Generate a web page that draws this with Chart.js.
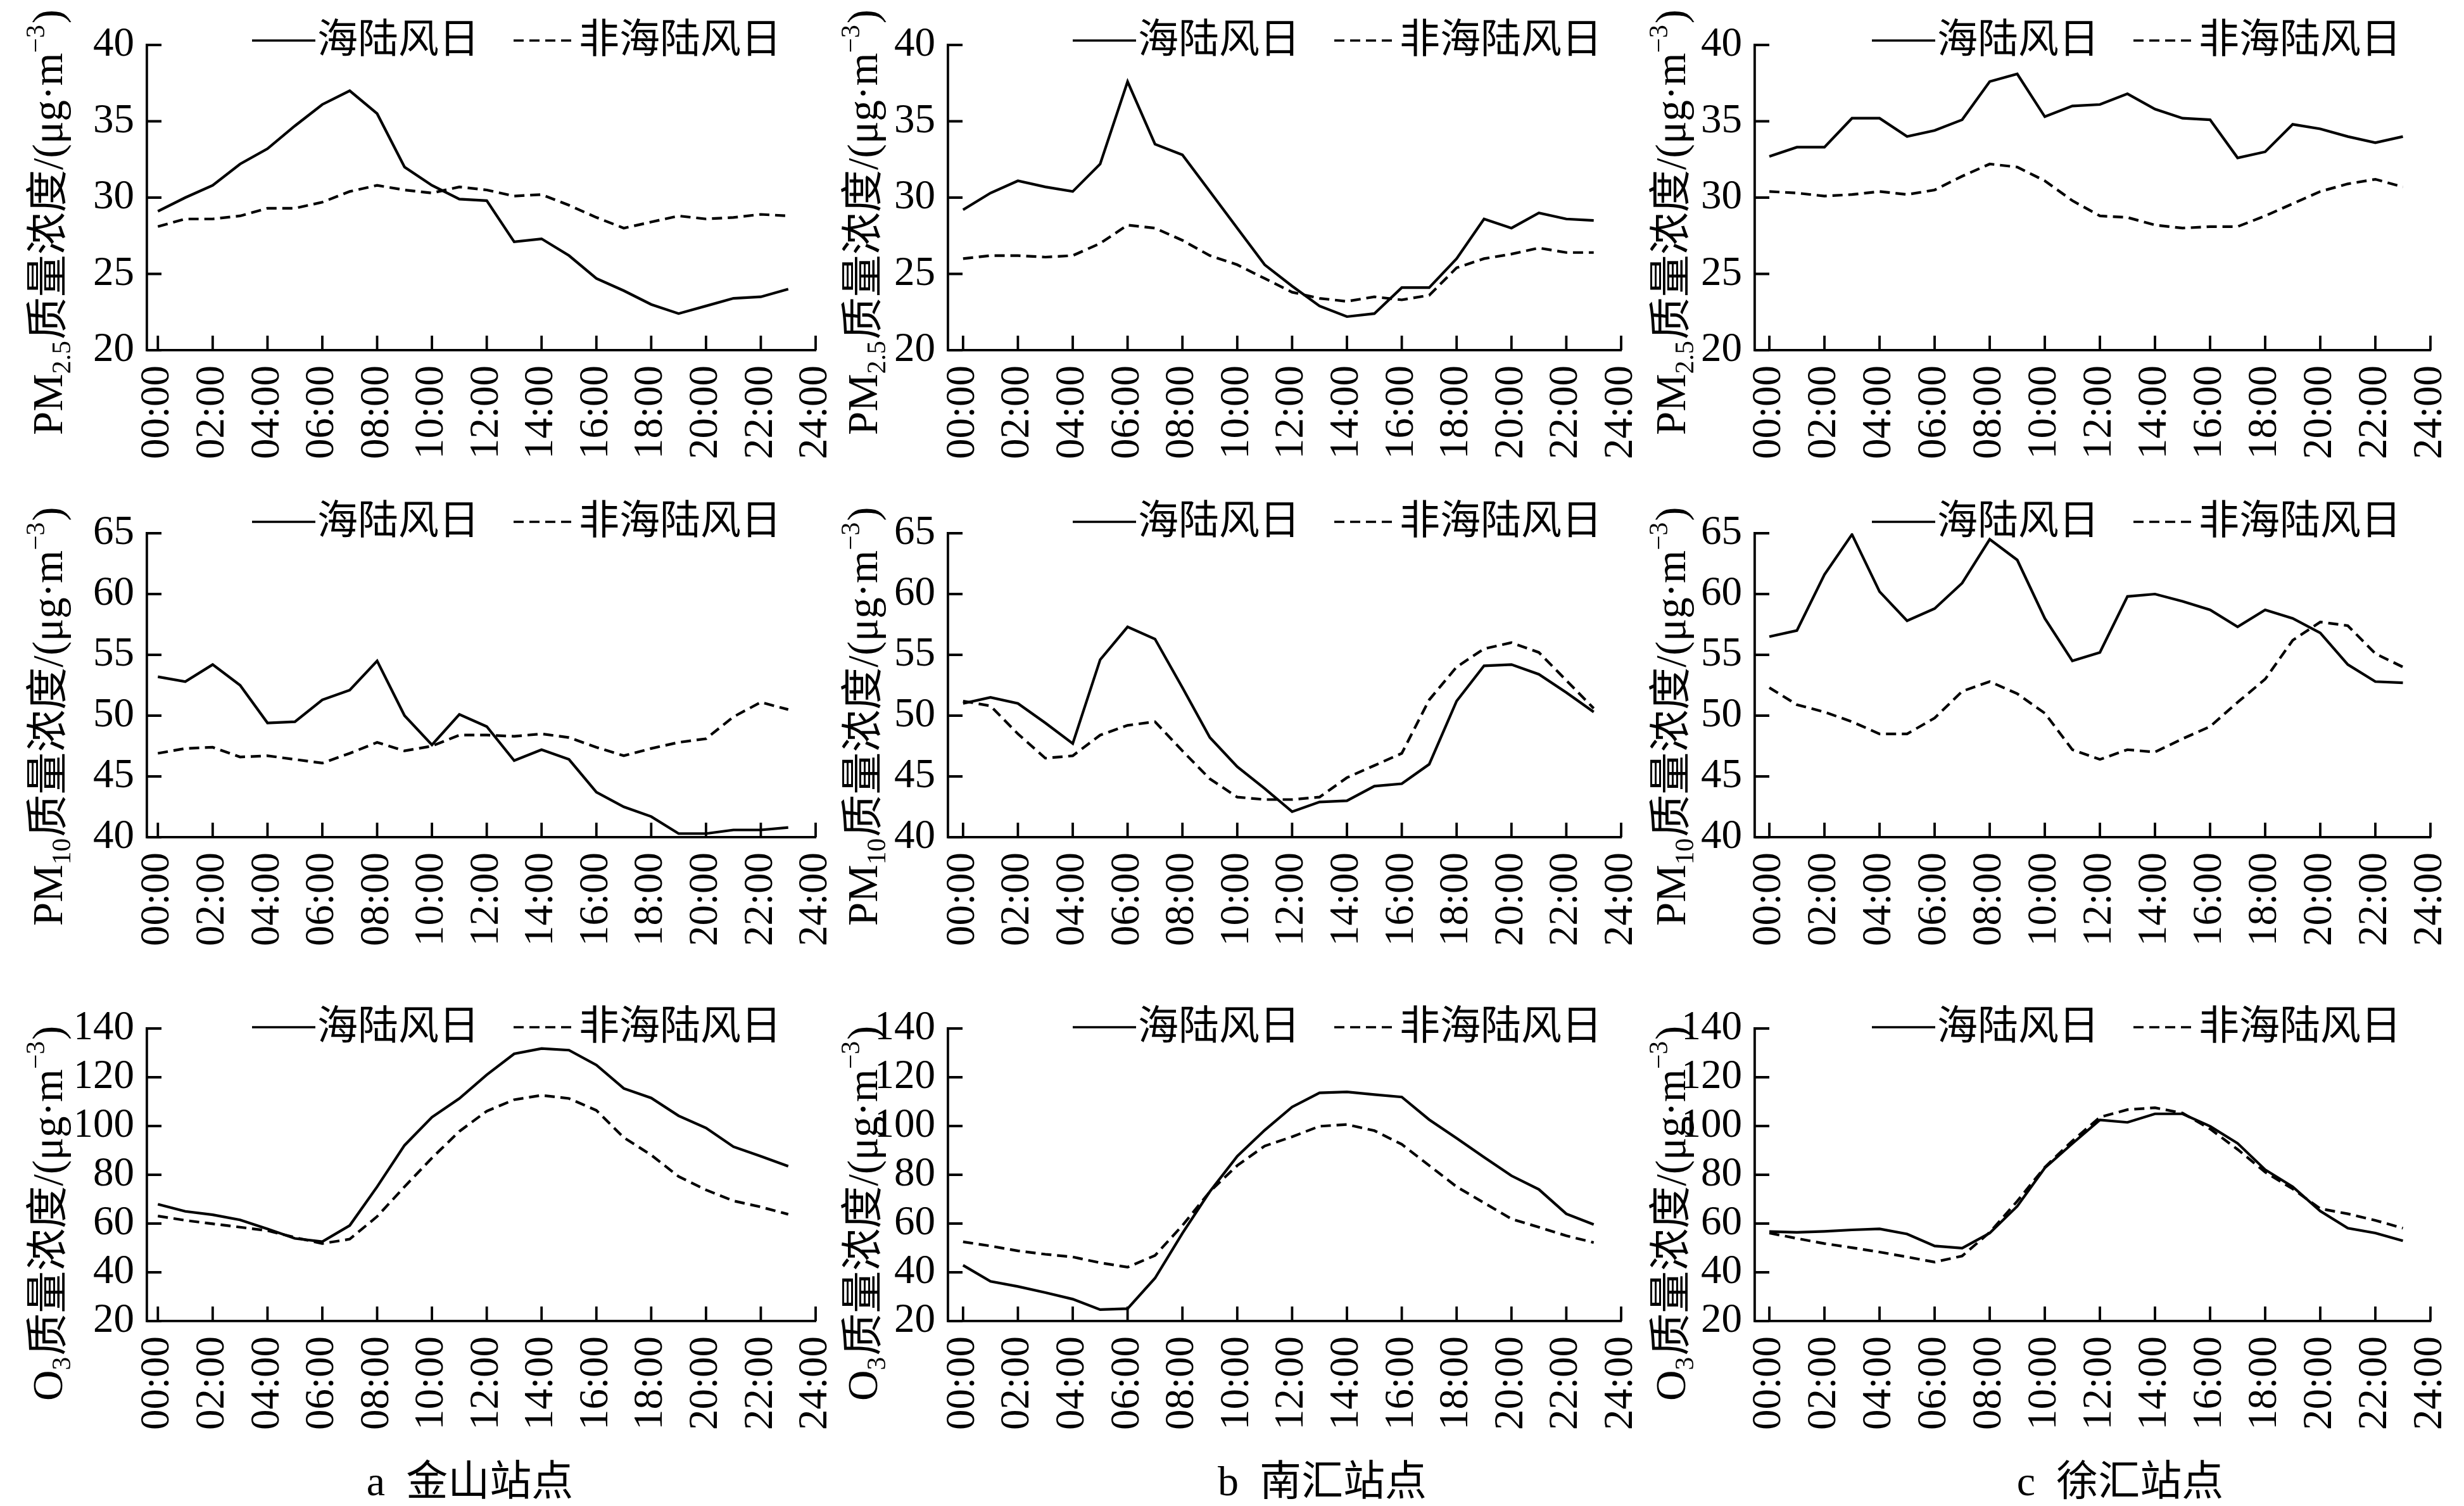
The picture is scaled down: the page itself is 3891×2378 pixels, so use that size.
<!DOCTYPE html>
<html>
<head>
<meta charset="utf-8">
<script src="https://cdn.jsdelivr.net/npm/chart.js@4.4.1/dist/chart.umd.min.js"></script>
<style>
  html, body { margin: 0; padding: 0; background: #fff; }
  #page { position: relative; width: 3891px; height: 2378px; background: #fff; overflow: hidden; }
  #page canvas { position: absolute; }
  .caption {
    position: absolute; top: 2306px; width: 600px; margin-left: -300px; text-align: center;
    font: 66px/66px "Liberation Serif", "Noto Sans CJK SC", serif; color: #000; white-space: pre;
  }
</style>
</head>
<body>
<div id="page">
  <div class="caption" style="left:742px">a&ensp;金山站点</div>
  <div class="caption" style="left:2088px">b&ensp;南汇站点</div>
  <div class="caption" style="left:3348px">c&ensp;徐汇站点</div>
</div>
<script>
"use strict";

// ---------------------------------------------------------------------------
// Data (hourly means)
// ---------------------------------------------------------------------------

const HOURS = [0, 1, 2, 3, 4, 5, 6, 7, 8, 9, 10, 11, 12, 13, 14, 15, 16, 17, 18, 19, 20, 21, 22, 23];
const HOUR_TICKS = [0, 2, 4, 6, 8, 10, 12, 14, 16, 18, 20, 22, 24];
const HOUR_LABELS = ["00:00", "02:00", "04:00", "06:00", "08:00", "10:00", "12:00",
  "14:00", "16:00", "18:00", "20:00", "22:00", "24:00"];
const SERIES_LABELS = ["海陆风日", "非海陆风日"];

const PM25_TICKS = [20, 25, 30, 35, 40];
const PM10_TICKS = [40, 45, 50, 55, 60, 65];
const O3_TICKS = [20, 40, 60, 80, 100, 120, 140];

// 金山
const JS_PM25_SEA = [29.1, 30.0, 30.8, 32.2, 33.2, 34.7, 36.1, 37.0, 35.5, 32.0, 30.8, 29.9, 29.8, 27.1, 27.3, 26.2, 24.7, 23.9, 23.0, 22.4, 22.9, 23.4, 23.5, 24.0];
const JS_PM25_NON = [28.1, 28.6, 28.6, 28.8, 29.3, 29.3, 29.7, 30.4, 30.8, 30.5, 30.3, 30.7, 30.5, 30.1, 30.2, 29.5, 28.7, 28.0, 28.4, 28.8, 28.6, 28.7, 28.9, 28.8];
const JS_PM10_SEA = [53.2, 52.8, 54.2, 52.5, 49.4, 49.5, 51.3, 52.1, 54.5, 50.0, 47.6, 50.1, 49.1, 46.3, 47.2, 46.4, 43.7, 42.5, 41.7, 40.3, 40.3, 40.6, 40.6, 40.8];
const JS_PM10_NON = [46.9, 47.3, 47.4, 46.6, 46.7, 46.4, 46.1, 46.9, 47.8, 47.1, 47.5, 48.4, 48.4, 48.3, 48.5, 48.2, 47.4, 46.7, 47.3, 47.8, 48.1, 49.9, 51.1, 50.5];
const JS_O3_SEA = [67.9, 65.0, 63.6, 61.5, 57.8, 53.9, 52.6, 59.2, 75.1, 92.1, 103.6, 111.3, 121.0, 129.6, 131.8, 131.1, 125.0, 115.4, 111.5, 104.2, 99.2, 91.5, 87.6, 83.5];
const JS_O3_NON = [63.1, 61.3, 59.9, 58.5, 57.1, 54.3, 51.8, 53.6, 62.9, 75.1, 86.9, 97.8, 106.1, 110.8, 112.6, 111.3, 106.4, 95.3, 88.1, 79.3, 73.8, 69.3, 66.8, 63.8];

// 南汇
const NH_PM25_SEA = [29.2, 30.3, 31.1, 30.7, 30.4, 32.2, 37.6, 33.5, 32.8, 30.4, 28.0, 25.6, 24.2, 22.9, 22.2, 22.4, 24.1, 24.1, 26.0, 28.6, 28.0, 29.0, 28.6, 28.5];
const NH_PM25_NON = [26.0, 26.2, 26.2, 26.1, 26.2, 27.0, 28.2, 28.0, 27.2, 26.2, 25.6, 24.7, 23.8, 23.4, 23.2, 23.5, 23.3, 23.6, 25.4, 26.0, 26.3, 26.7, 26.4, 26.4];
const NH_PM10_SEA = [51.0, 51.5, 51.0, 49.4, 47.7, 54.6, 57.3, 56.3, 52.3, 48.2, 45.8, 44.0, 42.1, 42.9, 43.0, 44.2, 44.4, 46.0, 51.2, 54.1, 54.2, 53.4, 51.9, 50.3];
const NH_PM10_NON = [51.2, 50.8, 48.5, 46.5, 46.7, 48.4, 49.2, 49.5, 47.1, 44.8, 43.3, 43.1, 43.1, 43.3, 44.9, 45.9, 46.9, 51.3, 54.0, 55.5, 56.0, 55.2, 52.9, 50.6];
const NH_O3_SEA = [42.9, 36.3, 34.2, 31.7, 29.0, 24.7, 25.1, 37.6, 56.0, 73.1, 87.6, 98.3, 107.8, 113.6, 114.0, 112.9, 111.9, 102.6, 95.0, 87.2, 79.6, 74.0, 64.0, 59.6];
const NH_O3_NON = [52.5, 50.8, 48.8, 47.4, 46.3, 43.9, 42.1, 46.9, 59.2, 73.1, 83.8, 91.8, 95.6, 99.9, 100.6, 98.1, 92.5, 83.8, 75.1, 68.5, 61.9, 58.5, 55.0, 52.2];

// 徐汇
const XH_PM25_SEA = [32.7, 33.3, 33.3, 35.2, 35.2, 34.0, 34.4, 35.1, 37.6, 38.1, 35.3, 36.0, 36.1, 36.8, 35.8, 35.2, 35.1, 32.6, 33.0, 34.8, 34.5, 34.0, 33.6, 34.0];
const XH_PM25_NON = [30.4, 30.3, 30.1, 30.2, 30.4, 30.2, 30.5, 31.4, 32.2, 32.0, 31.1, 29.8, 28.8, 28.7, 28.2, 28.0, 28.1, 28.1, 28.8, 29.6, 30.4, 30.9, 31.2, 30.7];
const XH_PM10_SEA = [56.5, 57.0, 61.6, 64.9, 60.2, 57.8, 58.8, 60.9, 64.5, 62.8, 58.0, 54.5, 55.2, 59.8, 60.0, 59.4, 58.7, 57.3, 58.7, 58.0, 56.8, 54.2, 52.8, 52.7];
const XH_PM10_NON = [52.3, 50.9, 50.3, 49.5, 48.5, 48.5, 49.8, 52.0, 52.8, 51.8, 50.2, 47.2, 46.4, 47.2, 47.0, 48.1, 49.1, 51.1, 53.0, 56.2, 57.7, 57.4, 55.1, 54.0];
const XH_O3_SEA = [56.7, 56.4, 56.8, 57.4, 57.8, 55.7, 50.8, 49.9, 56.1, 67.1, 82.8, 92.8, 102.5, 101.5, 105.0, 105.0, 99.9, 92.9, 82.1, 75.1, 65.1, 58.1, 56.1, 52.9];
const XH_O3_NON = [56.1, 53.9, 51.8, 50.1, 48.3, 46.3, 44.2, 46.7, 56.4, 69.2, 83.1, 93.9, 103.6, 106.7, 107.5, 105.3, 98.8, 90.4, 81.1, 74.2, 66.1, 64.0, 61.3, 58.1];

// Axis titles, split so subscripts / superscripts can be drawn
const TITLE_PM25 = [["PM"], ["2.5", "sub"], ["质量浓度/(μg·m"], ["−3", "sup"], [")"]];
const TITLE_PM10 = [["PM"], ["10", "sub"], ["质量浓度/(μg·m"], ["−3", "sup"], [")"]];
const TITLE_O3 = [["O"], ["3", "sub"], ["质量浓度/(μg·m"], ["−3", "sup"], [")"]];

// ---------------------------------------------------------------------------
// Layout (page pixels)
// ---------------------------------------------------------------------------

const FONT = '"Liberation Serif", "Noto Sans CJK SC", serif';
const TICK_PX = 65;
const TITLE_PX = 67;
const LEGEND_PX = 64;
const Y_W = 110; // fixed y-axis box width
const X_H = 190; // fixed x-axis box height
const PAD_R = 130; // room the rotated last x label asks for
const INNER_TICK = 23;
const AXIS_W = 3.8;

const COLS = [
  { left: 0, areaLeft: 232, areaRight: 1288, xMin: -0.4, titleGap: 134, legendGap: 54 },
  { left: 1300, areaLeft: 1497, areaRight: 2560, xMin: -0.55, titleGap: 112, legendGap: 30 },
  { left: 2580, areaLeft: 2771, areaRight: 3838, xMin: -0.53, titleGap: 110, legendGap: 46 },
];
const ROWS = [
  { top: 0, height: 770, areaTop: 71, areaBottom: 553, titleStart: 134, legendDy: -7 },
  { top: 770, height: 770, areaTop: 842, areaBottom: 1322, titleStart: 140, legendDy: -18 },
  { top: 1540, height: 838, areaTop: 1624, areaBottom: 2086, titleStart: 126, legendDy: -2 },
];

// ---------------------------------------------------------------------------
// Decorations: inward tick marks, rotated y title with sub/superscripts, legend
// ---------------------------------------------------------------------------

const paperDecor = {
  id: "paperDecor",
  afterDraw(chart, _args, opts) {
    const { ctx, chartArea: area } = chart;
    const xs = chart.scales.x;
    const ys = chart.scales.y;
    ctx.save();
    ctx.strokeStyle = "#000";
    ctx.lineWidth = AXIS_W;
    ctx.setLineDash([]);
    ctx.beginPath();
    for (const t of xs.ticks) {
      const px = xs.getPixelForValue(t.value);
      ctx.moveTo(px, area.bottom);
      ctx.lineTo(px, area.bottom - INNER_TICK);
    }
    for (const t of ys.ticks) {
      const py = ys.getPixelForValue(t.value);
      ctx.moveTo(area.left, py);
      ctx.lineTo(area.left + INNER_TICK, py);
    }
    ctx.stroke();

    // y title, reading bottom-to-top
    ctx.fillStyle = "#000";
    ctx.translate(area.left - opts.titleGap, area.bottom + opts.titleStart);
    ctx.rotate(-Math.PI / 2);
    ctx.textBaseline = "alphabetic";
    ctx.textAlign = "left";
    let x = 0;
    for (const [text, kind] of opts.title) {
      const size = kind ? TITLE_PX * 0.62 : TITLE_PX;
      const dy = kind === "sub" ? TITLE_PX * 0.2 : kind === "sup" ? -TITLE_PX * 0.42 : 0;
      ctx.font = `${size}px ${FONT}`;
      ctx.fillText(text, x, dy);
      x += ctx.measureText(text).width + (kind ? 2 : 0);
    }
    ctx.restore();

    // legend, right-aligned above the plot
    ctx.save();
    ctx.font = `${LEGEND_PX}px ${FONT}`;
    ctx.textBaseline = "middle";
    ctx.textAlign = "left";
    ctx.fillStyle = "#000";
    ctx.strokeStyle = "#000";
    ctx.lineWidth = 3.4;
    const y = area.top + opts.legendDy;
    const ds = chart.data.datasets;
    let right = area.right - opts.legendGap;
    const pos = [];
    for (let i = ds.length - 1; i >= 0; i--) {
      const textX = right - ctx.measureText(ds[i].label).width;
      const lineEnd = textX - 3;
      pos[i] = { textX, lineEnd, lineStart: lineEnd - 100 };
      right = pos[i].lineStart - 54;
    }
    ds.forEach((d, i) => {
      ctx.setLineDash(d.borderDash || []);
      ctx.beginPath();
      ctx.moveTo(pos[i].lineStart, y);
      ctx.lineTo(pos[i].lineEnd, y);
      ctx.stroke();
      ctx.fillText(d.label, pos[i].textX, y + 2);
    });
    ctx.restore();
  },
};
Chart.register(paperDecor);

// ---------------------------------------------------------------------------
// Panels
// ---------------------------------------------------------------------------

const PANELS = [
  [0, 0, PM25_TICKS, TITLE_PM25, JS_PM25_SEA, JS_PM25_NON],
  [0, 1, PM25_TICKS, TITLE_PM25, NH_PM25_SEA, NH_PM25_NON],
  [0, 2, PM25_TICKS, TITLE_PM25, XH_PM25_SEA, XH_PM25_NON],
  [1, 0, PM10_TICKS, TITLE_PM10, JS_PM10_SEA, JS_PM10_NON],
  [1, 1, PM10_TICKS, TITLE_PM10, NH_PM10_SEA, NH_PM10_NON],
  [1, 2, PM10_TICKS, TITLE_PM10, XH_PM10_SEA, XH_PM10_NON],
  [2, 0, O3_TICKS, TITLE_O3, JS_O3_SEA, JS_O3_NON],
  [2, 1, O3_TICKS, TITLE_O3, NH_O3_SEA, NH_O3_NON],
  [2, 2, O3_TICKS, TITLE_O3, XH_O3_SEA, XH_O3_NON],
];

const toPoints = (vals) => HOURS.map((h, i) => ({ x: h, y: vals[i] }));

function dataset(label, vals, dash) {
  return {
    label,
    data: toPoints(vals),
    borderColor: "#000",
    borderWidth: 4.2,
    borderDash: dash,
    pointRadius: 0,
    tension: 0,
    fill: false,
  };
}

function makePanel([r, c, yTicks, title, sea, non]) {
  const col = COLS[c];
  const row = ROWS[r];
  const width = col.areaRight + PAD_R - col.left;
  const canvas = document.createElement("canvas");
  canvas.width = width;
  canvas.height = row.height;
  canvas.style.left = col.left + "px";
  canvas.style.top = row.top + "px";
  canvas.style.width = width + "px";
  canvas.style.height = row.height + "px";
  document.getElementById("page").appendChild(canvas);

  const tickFont = { family: FONT, size: TICK_PX };
  new Chart(canvas, {
    type: "line",
    data: { datasets: [dataset(SERIES_LABELS[0], sea, []), dataset(SERIES_LABELS[1], non, [16, 9])] },
    options: {
      responsive: false,
      animation: false,
      devicePixelRatio: 1,
      layout: {
        padding: {
          left: col.areaLeft - col.left - Y_W,
          right: PAD_R,
          top: row.areaTop - row.top,
          bottom: row.top + row.height - row.areaBottom - X_H,
        },
      },
      scales: {
        x: {
          type: "linear",
          min: col.xMin,
          max: HOUR_TICKS[HOUR_TICKS.length - 1],
          afterBuildTicks: (s) => { s.ticks = HOUR_TICKS.map((v) => ({ value: v })); },
          afterFit: (s) => { s.height = X_H; },
          grid: { display: false, drawTicks: false },
          border: { display: true, color: "#000", width: AXIS_W },
          ticks: {
            autoSkip: false,
            minRotation: 90,
            maxRotation: 90,
            padding: 24,
            color: "#000",
            font: tickFont,
            callback: (v) => HOUR_LABELS[HOUR_TICKS.indexOf(v)],
          },
        },
        y: {
          min: yTicks[0],
          max: yTicks[yTicks.length - 1],
          afterBuildTicks: (s) => { s.ticks = yTicks.map((v) => ({ value: v })); },
          afterFit: (s) => { s.width = Y_W; },
          grid: { display: false, drawTicks: false },
          border: { display: true, color: "#000", width: AXIS_W },
          ticks: { autoSkip: false, padding: 20, color: "#000", font: tickFont },
        },
      },
      plugins: {
        legend: { display: false },
        tooltip: { enabled: false },
        paperDecor: {
          title,
          titleGap: col.titleGap,
          titleStart: row.titleStart,
          legendGap: col.legendGap,
          legendDy: row.legendDy,
        },
      },
    },
  });
}

PANELS.forEach(makePanel);
</script>
</body>
</html>
